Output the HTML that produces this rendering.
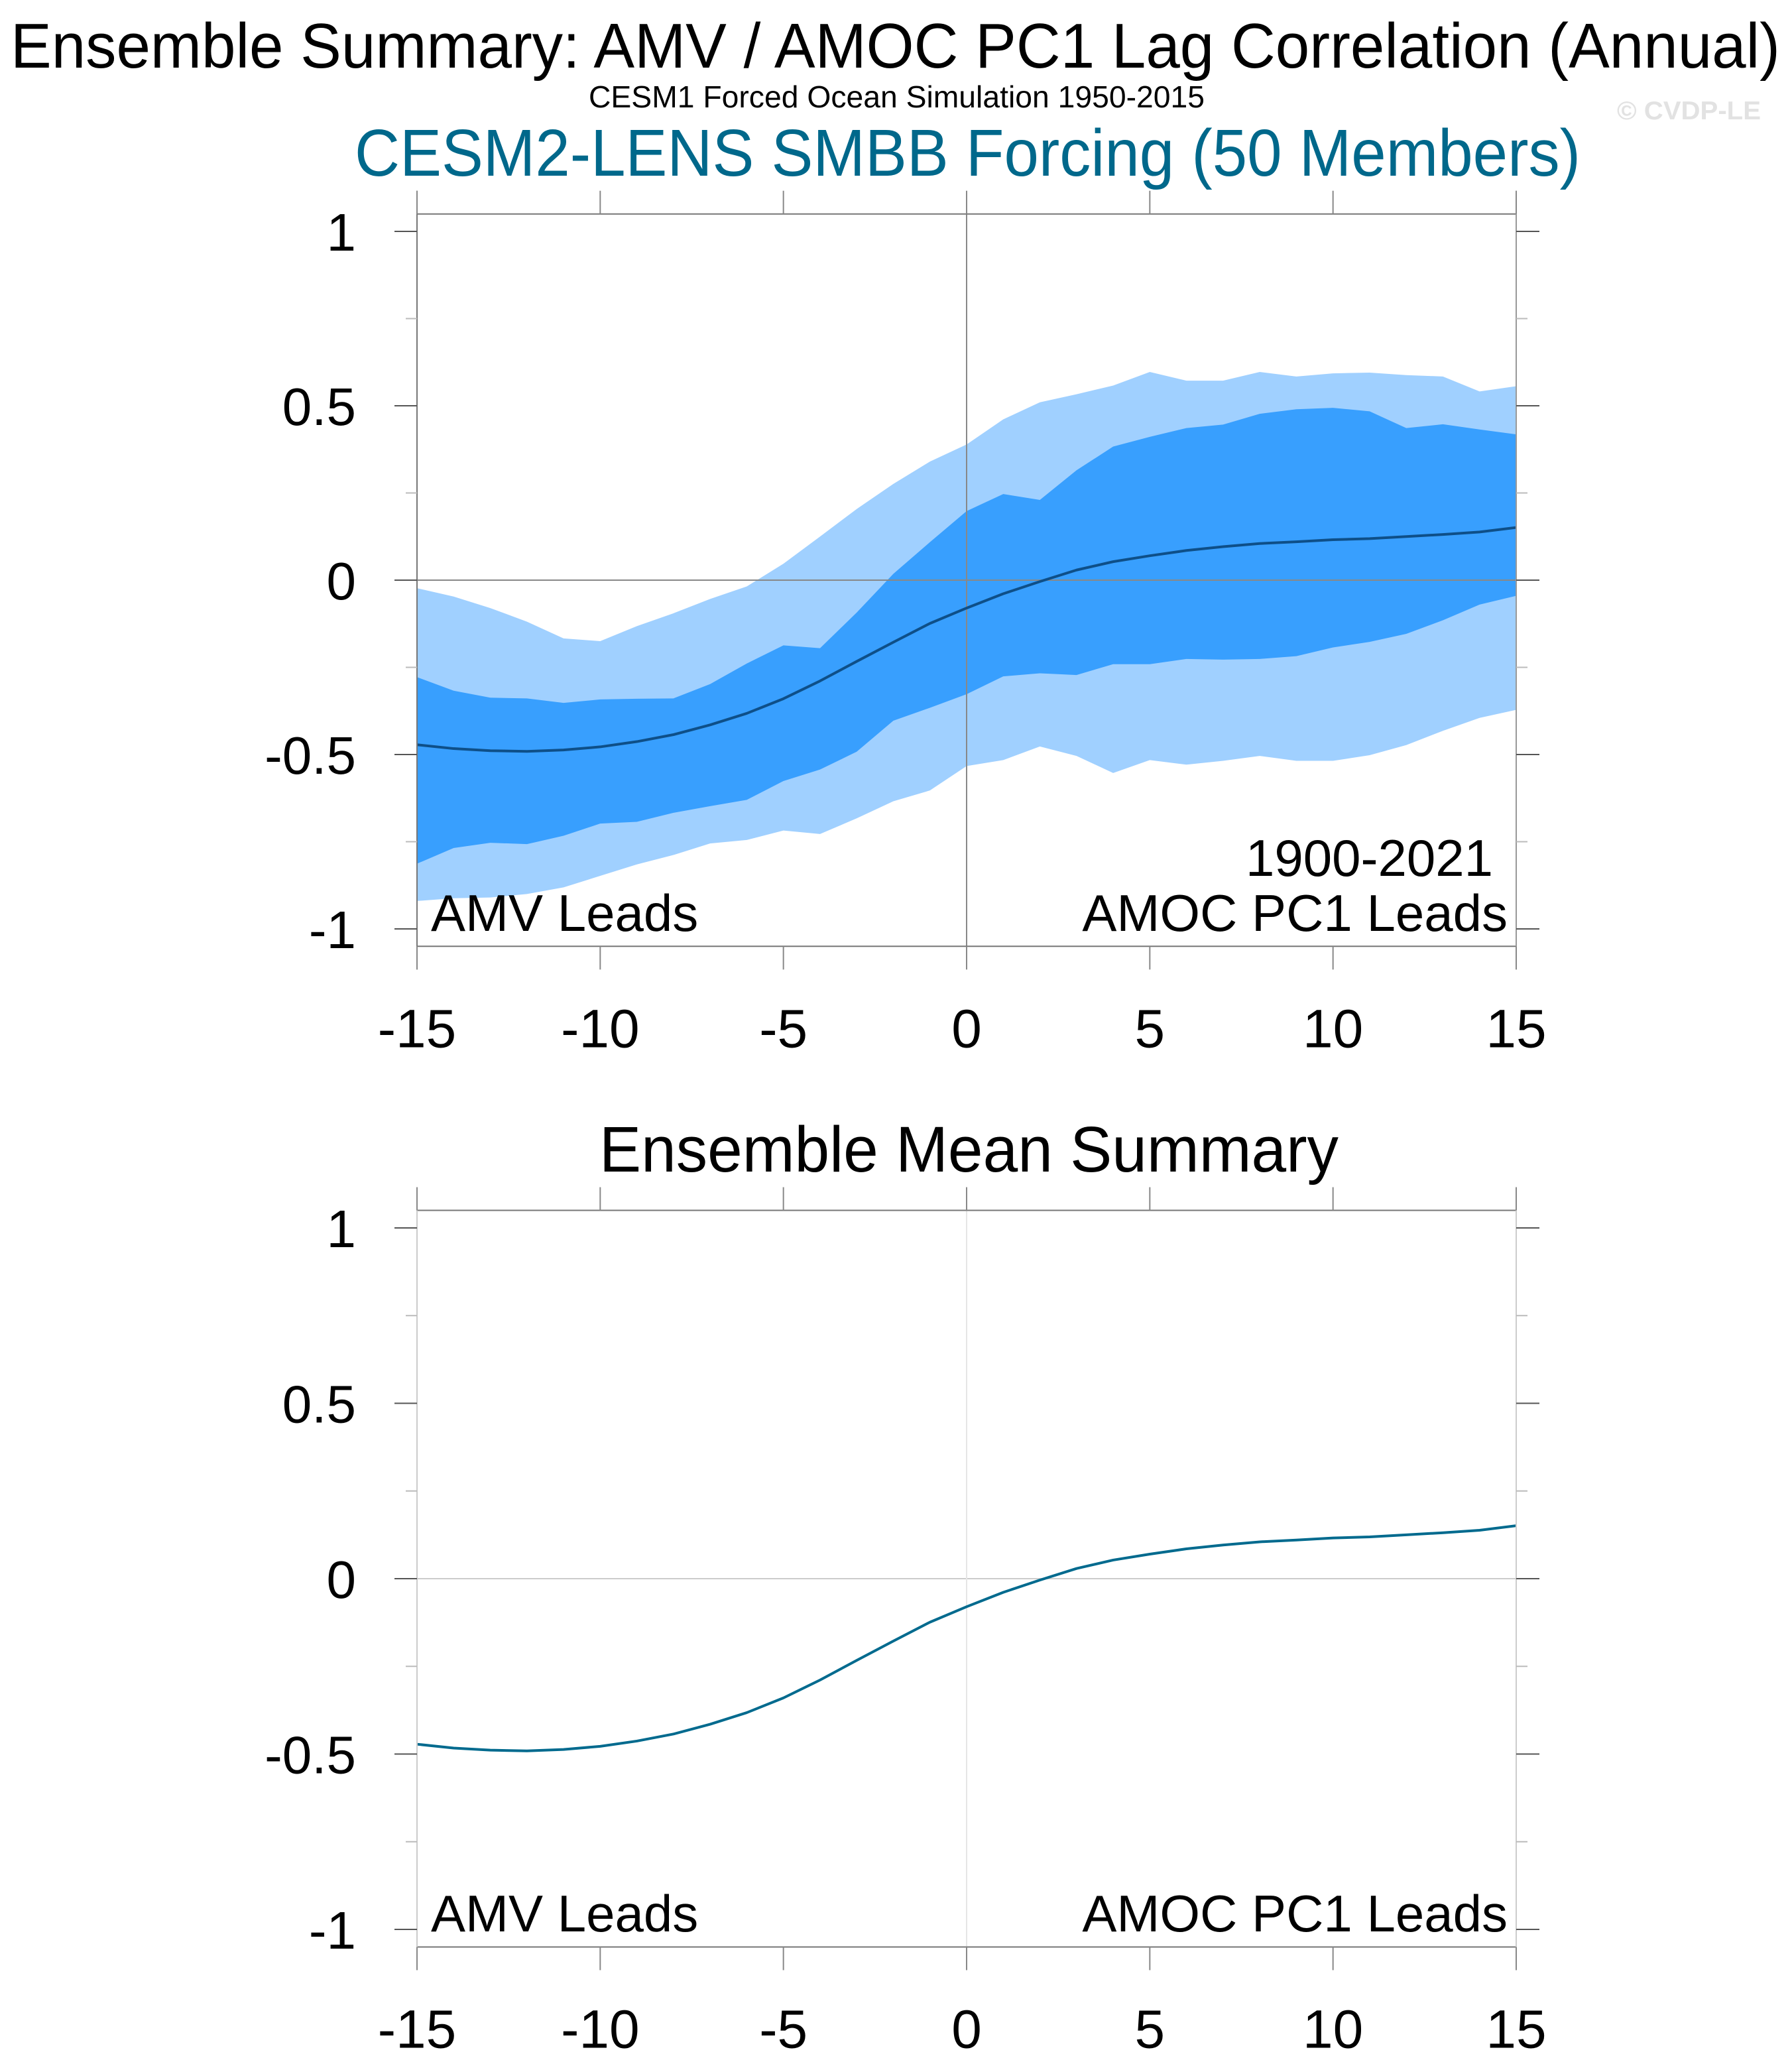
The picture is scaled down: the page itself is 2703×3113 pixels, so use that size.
<!DOCTYPE html>
<html><head><meta charset="utf-8"><style>
html,body{margin:0;padding:0;background:#fff;}
svg{display:block;font-family:"Liberation Sans",sans-serif;}
</style></head><body>
<svg id="chart" width="2703" height="3113" viewBox="0 0 2703 3113" xmlns="http://www.w3.org/2000/svg">
<text x="16" y="102" font-size="96" textLength="2669" lengthAdjust="spacingAndGlyphs">Ensemble Summary: AMV / AMOC PC1 Lag Correlation (Annual)</text>
<text x="888" y="162" font-size="46" textLength="929" lengthAdjust="spacingAndGlyphs">CESM1 Forced Ocean Simulation 1950-2015</text>
<text x="2439" y="180" font-size="39" font-weight="bold" fill="#e2e2e2" textLength="217" lengthAdjust="spacingAndGlyphs">© CVDP-LE</text>
<text x="535" y="265" font-size="100" fill="#00688b" textLength="1849" lengthAdjust="spacingAndGlyphs">CESM2-LENS SMBB Forcing (50 Members)</text>
<text x="904" y="1767" font-size="97" textLength="1115" lengthAdjust="spacingAndGlyphs">Ensemble Mean Summary</text>
<g id="top"></g>
<g id="bot"></g>
</svg>
<script>
const lags = [-15,-14,-13,-12,-11,-10,-9,-8,-7,-6,-5,-4,-3,-2,-1,0,1,2,3,4,5,6,7,8,9,10,11,12,13,14,15];
const meanVals = [-0.472,-0.483,-0.489,-0.491,-0.487,-0.478,-0.463,-0.443,-0.415,-0.382,-0.340,-0.289,-0.233,-0.178,-0.124,-0.080,-0.039,-0.004,0.029,0.053,0.070,0.085,0.096,0.105,0.110,0.116,0.119,0.125,0.131,0.138,0.151];
const outerUpper = [-0.023,-0.047,-0.08,-0.119,-0.167,-0.175,-0.132,-0.095,-0.054,-0.018,0.047,0.125,0.204,0.276,0.34,0.389,0.461,0.51,0.533,0.558,0.597,0.572,0.572,0.597,0.584,0.593,0.595,0.588,0.584,0.541,0.556];
const innerUpper = [-0.278,-0.317,-0.337,-0.339,-0.352,-0.342,-0.34,-0.339,-0.298,-0.239,-0.187,-0.195,-0.093,0.018,0.109,0.198,0.247,0.23,0.315,0.383,0.411,0.436,0.446,0.477,0.49,0.494,0.484,0.436,0.447,0.432,0.418];
const innerLower = [-0.813,-0.768,-0.753,-0.757,-0.733,-0.698,-0.693,-0.667,-0.648,-0.63,-0.576,-0.543,-0.492,-0.403,-0.366,-0.327,-0.276,-0.267,-0.272,-0.241,-0.241,-0.226,-0.228,-0.226,-0.218,-0.193,-0.177,-0.154,-0.115,-0.07,-0.045];
const outerLower = [-0.92,-0.912,-0.91,-0.90,-0.881,-0.848,-0.815,-0.788,-0.755,-0.745,-0.718,-0.728,-0.683,-0.634,-0.603,-0.533,-0.516,-0.477,-0.504,-0.553,-0.516,-0.529,-0.518,-0.504,-0.518,-0.518,-0.502,-0.473,-0.432,-0.395,-0.372];
const xTicks = [-15,-10,-5,0,5,10,15];
const yTicks = [-1,-0.5,0,0.5,1];
const yTickLabels = ["-1","-0.5","0","0.5","1"];
const yMinor = [-0.75,-0.25,0.25,0.75];

const NS="http://www.w3.org/2000/svg";
function mk(parent,tag,attrs,txt){const e=document.createElementNS(NS,tag);for(const k in attrs)e.setAttribute(k,attrs[k]);if(txt!==undefined)e.textContent=txt;parent.appendChild(e);return e;}
const X0=629,X1=2287;
const xs = v => X0+(v+15)/30*(X1-X0);

function panel(g, yTop1, yBotm1, bands, lineColor, yRangeLabels){
  const ys = v => yBotm1 - (v+1)/2*(yBotm1-yTop1);
  const boxTop = ys(1.05), boxBot = ys(-1.05);
  if(bands){
    const poly=(up,lo,fill,name)=>{
      let pts=lags.map((l,i)=>xs(l)+","+ys(up[i]));
      for(let i=lags.length-1;i>=0;i--)pts.push(xs(lags[i])+","+ys(lo[i]));
      const p=mk(g,'polygon',{points:pts.join(' '),fill:fill});
      
      
    };
    poly(outerUpper,outerLower,'#a0d0ff','outer-spread-band');
    poly(innerUpper,innerLower,'#389ffe','inner-spread-band');
  }
  const zl=mk(g,'line',{x1:X0,x2:X1,y1:ys(0),y2:ys(0),stroke:bands?'#888':'#ccc','stroke-width':2});
  
  
  const vl=mk(g,'line',{x1:xs(0),x2:xs(0),y1:boxTop,y2:boxBot,stroke:bands?'#888':'#e6e6e6','stroke-width':2});
  
  
  const ml=mk(g,'polyline',{points:lags.map((l,i)=>xs(l)+","+ys(meanVals[i])).join(' '),fill:'none',stroke:lineColor,'stroke-width':4,'stroke-linejoin':'round'});
  
  
  const bt=mk(g,'line',{x1:X0,x2:X1,y1:boxTop,y2:boxTop,stroke:'#777','stroke-width':2});
  
  
  const bb=mk(g,'line',{x1:X0,x2:X1,y1:boxBot,y2:boxBot,stroke:'#777','stroke-width':2});
  
  
  const bl=mk(g,'line',{x1:X0,x2:X0,y1:boxTop-35,y2:boxBot+35,stroke:bands?'#777':'#ccc','stroke-width':2});
  
  
  const br=mk(g,'line',{x1:X1,x2:X1,y1:boxTop-35,y2:boxBot+35,stroke:bands?'#999':'#ccc','stroke-width':2});
  
  
  xTicks.forEach(t=>{
    const a=mk(g,'line',{x1:xs(t),x2:xs(t),y1:boxTop-35,y2:boxTop,stroke:'#888','stroke-width':2});
    
    
    const b=mk(g,'line',{x1:xs(t),x2:xs(t),y1:boxBot,y2:boxBot+35,stroke:'#888','stroke-width':2});
    
    
    const tl=mk(g,'text',{x:xs(t),y:boxBot+152,'font-size':82,'text-anchor':'middle'},String(t));
    
    
  });
  yTicks.forEach((t,i)=>{
    const a=mk(g,'line',{x1:X0-34,x2:X0,y1:ys(t),y2:ys(t),stroke:'#555','stroke-width':2});
    
    
    const b=mk(g,'line',{x1:X1,x2:X1+35,y1:ys(t),y2:ys(t),stroke:'#555','stroke-width':2});
    
    
    const tl=mk(g,'text',{x:537,y:ys(t)+29,'font-size':80,'text-anchor':'end'},yTickLabels[i]);
    
    
  });
  yMinor.forEach(t=>{
    const a=mk(g,'line',{x1:X0-17,x2:X0,y1:ys(t),y2:ys(t),stroke:'#bbb','stroke-width':2});
    
    
    const b=mk(g,'line',{x1:X1,x2:X1+17,y1:ys(t),y2:ys(t),stroke:'#bbb','stroke-width':2});
    
    
  });
  const l1=mk(g,'text',{x:650,y:yBotm1+3,'font-size':78},'AMV Leads');
  
  
  const l2=mk(g,'text',{x:2274,y:yBotm1+3,'font-size':78,'text-anchor':'end'},'AMOC PC1 Leads');
  
  
  if(yRangeLabels){
    const l3=mk(g,'text',{x:2252,y:yBotm1-80,'font-size':78,'text-anchor':'end'},'1900-2021');
    
    
  }
}
panel(document.getElementById('top'),349,1401,true,'#0e4f88',true);
panel(document.getElementById('bot'),1852,2910,false,'#006a8e',false);
</script>
</body></html>
